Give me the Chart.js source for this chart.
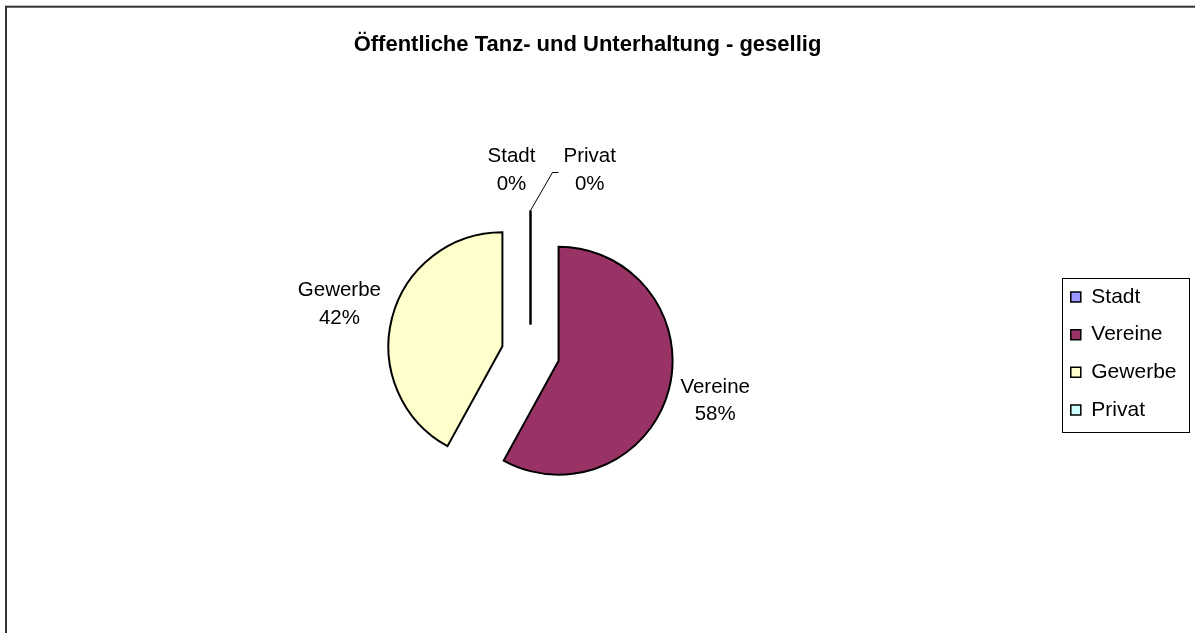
<!DOCTYPE html>
<html lang="de">
<head>
<meta charset="utf-8">
<title>Öffentliche Tanz- und Unterhaltung - gesellig</title>
<script src="https://cdn.jsdelivr.net/npm/chart.js@4.4.1/dist/chart.umd.min.js"></script>
<style>
  html, body { margin: 0; padding: 0; background: #fff; }
  #wrap { width: 1195px; height: 633px; }
</style>
</head>
<body>
<div id="wrap"><canvas id="chart" width="1195" height="633"></canvas></div>
<script>
// Daten
const chartTitle = 'Öffentliche Tanz- und Unterhaltung - gesellig';
const categories = ['Stadt', 'Vereine', 'Gewerbe', 'Privat'];
const shares = [0, 58, 42, 0]; // Prozent
const sliceColors = ['#9999FF', '#993366', '#FFFFCC', '#CCFFFF'];

const FONT = '"Liberation Sans", Arial, sans-serif';
const EXPLODE = 29; // Abstand der herausgezogenen Segmente

// leerer Platz links, damit Titel und Kreis wie im Original versetzt sind
const spacerPlugin = {
    id: 'leftSpacer',
    beforeInit(chart) {
        Chart.layouts.addBox(chart, {
            position: 'left',
            weight: 0,
            fullSize: false,
            options: {},
            update(maxWidth, maxHeight) {
                this.width = 18.4;
                this.height = maxHeight;
            },
            isHorizontal() { return false; },
            draw() {}
        });
    }
};

// Rahmen um das ganze Diagramm (rechts und unten abgeschnitten wie im Original)
const framePlugin = {
    id: 'frame',
    beforeDraw(chart) {
        const ctx = chart.ctx;
        ctx.save();
        ctx.fillStyle = '#fff';
        ctx.fillRect(0, 0, chart.width, chart.height);
        ctx.strokeStyle = '#333';
        ctx.lineWidth = 2;
        ctx.strokeRect(6, 6.7, chart.width + 50, chart.height + 50);
        ctx.restore();
    }
};

// Segmente auseinanderziehen (Excel "explodiert")
const explodePlugin = {
    id: 'explode',
    beforeDatasetsDraw(chart) {
        const meta = chart.getDatasetMeta(0);
        const area = chart.chartArea;
        const cx = (area.left + area.right) / 2 + (meta.controller.offsetX || 0);
        const cy = (area.top + area.bottom) / 2 + (meta.controller.offsetY || 0);
        meta.data.forEach(arc => {
            const mid = (arc.startAngle + arc.endAngle) / 2;
            arc.x = cx + Math.cos(mid) * EXPLODE;
            arc.y = cy + Math.sin(mid) * EXPLODE;
        });
    }
};

// Beschriftungen "Name / xx%" ausserhalb der Segmente
const labelPlugin = {
    id: 'sliceLabels',
    afterDatasetsDraw(chart) {
        const ctx = chart.ctx;
        const meta = chart.getDatasetMeta(0);
        const total = shares.reduce((a, b) => a + b, 0);
        ctx.save();
        ctx.font = '20.5px ' + FONT;
        ctx.fillStyle = '#000';
        ctx.strokeStyle = '#000';
        ctx.textAlign = 'center';
        ctx.textBaseline = 'middle';
        meta.data.forEach((arc, i) => {
            const lines = [categories[i], Math.round(shares[i] / total * 100) + '%'];
            const w = Math.max(...lines.map(t => ctx.measureText(t).width));
            const mid = (arc.startAngle + arc.endAngle) / 2;
            const dx = Math.cos(mid), dy = Math.sin(mid);
            const ax = arc.x + dx * arc.outerRadius;
            const ay = arc.y + dy * arc.outerRadius;
            let lx, ly;
            if (arc.circumference > 0) {
                const d = 14 + w / 2 * Math.abs(dx);
                lx = ax + dx * d;
                ly = ay + dy * d;
            } else {
                // 0%-Segment: nur ein Strich
                ctx.lineWidth = 2;
                ctx.beginPath();
                ctx.moveTo(arc.x, arc.y);
                ctx.lineTo(ax, ay);
                ctx.stroke();
                if (i === 0) {
                    lx = ax - 19;
                    ly = ay - 40;
                } else {
                    ctx.lineWidth = 1;
                    ctx.beginPath();
                    ctx.moveTo(ax, ay);
                    ctx.lineTo(ax + 22, ay - 38);
                    ctx.lineTo(ax + 28, ay - 38);
                    ctx.stroke();
                    lx = ax + 33 + w / 2;
                    ly = ay - 40;
                }
            }
            ctx.fillText(lines[0], lx, ly - 13.75);
            ctx.fillText(lines[1], lx, ly + 13.75);
        });
        ctx.restore();
    }
};

// Kasten um die Legende
const legendBoxPlugin = {
    id: 'legendBox',
    afterDraw(chart) {
        const boxes = chart.legend && chart.legend.legendHitBoxes;
        if (!boxes || !boxes.length) return;
        const left = Math.min(...boxes.map(b => b.left)) - 9;
        const top = Math.min(...boxes.map(b => b.top)) - 8.5;
        const right = Math.max(...boxes.map(b => b.left + b.width)) + 12.5;
        const bottom = Math.max(...boxes.map(b => b.top + b.height)) + 11.5;
        const ctx = chart.ctx;
        ctx.save();
        ctx.strokeStyle = '#000';
        ctx.lineWidth = 1;
        ctx.strokeRect(Math.round(left) + 0.5, Math.round(top) + 0.5, Math.round(right - left), Math.round(bottom - top));
        ctx.restore();
    }
};

const baseLabels = Chart.overrides.doughnut.plugins.legend.labels.generateLabels;

const ctx = document.getElementById('chart').getContext('2d');
const chart = new Chart(ctx, {
    type: 'pie',
    data: {
        labels: categories,
        datasets: [{
            data: shares,
            backgroundColor: sliceColors,
            borderColor: '#000',
            borderWidth: 2,
            borderJoinStyle: 'miter'
        }]
    },
    options: {
        responsive: false,
        animation: false,
        radius: 114,
        layout: { padding: { left: -11.5, right: 8.5, top: 0, bottom: 0 } },
        plugins: {
            title: {
                display: true,
                text: chartTitle,
                color: '#000',
                font: { family: FONT, size: 22, weight: 'bold' },
                padding: { top: 32, bottom: 15.6 }
            },
            legend: {
                position: 'right',
                fullSize: false,
                onClick: null,
                labels: {
                    color: '#000',
                    font: { family: FONT, size: 21 },
                    boxWidth: 10,
                    boxHeight: 10,
                    padding: 16.7,
                    generateLabels(c) {
                        return baseLabels(c).map(item => ({ ...item, lineWidth: 1.5 }));
                    }
                }
            },
            tooltip: { enabled: false }
        }
    },
    plugins: [spacerPlugin, framePlugin, explodePlugin, labelPlugin, legendBoxPlugin]
});
</script>
</body>
</html>
